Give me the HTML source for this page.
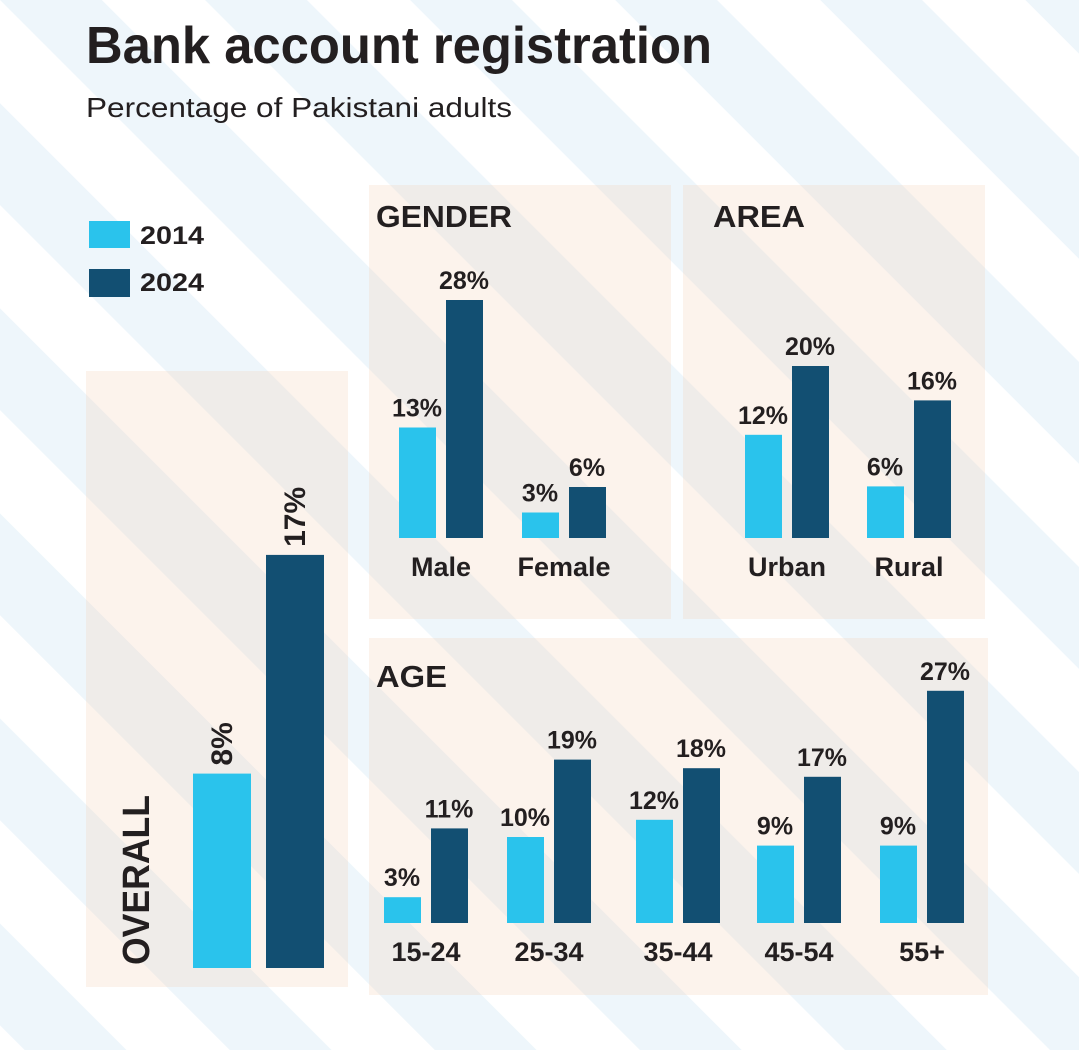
<!DOCTYPE html>
<html><head><meta charset="utf-8">
<style>
html,body{margin:0;padding:0;background:#fff;}
svg{display:block;}
text{font-family:"Liberation Sans Narrow","Liberation Sans",sans-serif;fill:#231f20;}
.b{font-weight:bold;}
</style></head>
<body>
<svg id="chart" width="1079" height="1050" viewBox="0 0 1079 1050" xmlns="http://www.w3.org/2000/svg">
<defs>
<pattern id="bgStripe" width="145" height="145" patternUnits="userSpaceOnUse" patternTransform="rotate(-45)">
<rect x="0" y="0" width="145" height="145" fill="#ffffff"/>
<rect x="0" y="0" width="72" height="145" fill="#eef6fb"/>
</pattern>
<pattern id="panelStripe" width="145" height="145" patternUnits="userSpaceOnUse" patternTransform="rotate(-45)">
<rect x="0" y="0" width="145" height="145" fill="#fcf3ec"/>
<rect x="0" y="0" width="72" height="145" fill="#efece9"/>
</pattern>
</defs>
<rect x="0" y="0" width="1079" height="1050" fill="url(#bgStripe)"/>
<text x="86" y="63" class="b" font-size="52" textLength="626" lengthAdjust="spacingAndGlyphs">Bank account registration</text>
<text x="86" y="117" font-size="28" textLength="426" lengthAdjust="spacingAndGlyphs">Percentage of Pakistani adults</text>

<g>
<rect x="89" y="221" width="41" height="27" fill="#2ac3ec"/>
<text x="140" y="244" class="b" font-size="25" textLength="64" lengthAdjust="spacingAndGlyphs">2014</text>
<rect x="89" y="269" width="41" height="28" fill="#124f72"/>
<text x="140" y="291" class="b" font-size="25" textLength="64" lengthAdjust="spacingAndGlyphs">2024</text>
</g>

<rect x="86" y="371" width="262" height="616" fill="url(#panelStripe)"/>
<rect x="369" y="185" width="302" height="434" fill="url(#panelStripe)"/>
<rect x="683" y="185" width="302" height="434" fill="url(#panelStripe)"/>
<rect x="369" y="638" width="619" height="357" fill="url(#panelStripe)"/>

<text x="376" y="227" class="b" font-size="31" textLength="136" lengthAdjust="spacingAndGlyphs">GENDER</text>
<text x="713" y="227" class="b" font-size="31" textLength="92" lengthAdjust="spacingAndGlyphs">AREA</text>
<text x="376" y="687" class="b" font-size="31" textLength="71" lengthAdjust="spacingAndGlyphs">AGE</text>
<text transform="translate(149,965) rotate(-90)" class="b" font-size="38" textLength="170" lengthAdjust="spacingAndGlyphs">OVERALL</text>

<g id="marks"></g>
</svg>
<script>
// Data
const overallValues = [8, 17];
const genderCats = ["Male", "Female"];
const gender2014 = [13, 3];
const gender2024 = [28, 6];
const areaCats = ["Urban", "Rural"];
const area2014 = [12, 6];
const area2024 = [20, 16];
const ageCats = ["15-24", "25-34", "35-44", "45-54", "55+"];
const age2014 = [3, 10, 12, 9, 9];
const age2024 = [11, 19, 18, 17, 27];

const NS = "http://www.w3.org/2000/svg";
const marks = document.getElementById("marks");
const C14 = "#2ac3ec", C24 = "#124f72";

function mk(tag, attrs) {
  const e = document.createElementNS(NS, tag);
  for (const k in attrs) e.setAttribute(k, attrs[k]);
  marks.appendChild(e);
  return e;
}
function yScale(base, pxPer) { return v => base - v * pxPer; }

// Small grouped charts
function grouped(prefix, cats, s14, s24, groupX, baseY, pxPer) {
  const y = yScale(baseY, pxPer);
  cats.forEach((c, i) => {
    const x0 = groupX[i];
    const r1 = mk("rect", {x: x0, y: y(s14[i]), width: 37, height: baseY - y(s14[i]), fill: C14});
    
    
    const r2 = mk("rect", {x: x0 + 47, y: y(s24[i]), width: 37, height: baseY - y(s24[i]), fill: C24});
    
    
    const t1 = mk("text", {x: x0 + 18, y: y(s14[i]) - 11, "text-anchor": "middle", "font-size": 25, "font-weight": "bold"});
    t1.textContent = s14[i] + "%";
    
    
    const t2 = mk("text", {x: x0 + 65, y: y(s24[i]) - 11, "text-anchor": "middle", "font-size": 25, "font-weight": "bold"});
    t2.textContent = s24[i] + "%";
    
    
    const lb = mk("text", {x: x0 + 42, y: baseY + 38, "text-anchor": "middle", "font-size": 27, "font-weight": "bold"});
    lb.textContent = c;
    
    
  });
}
grouped("gender", genderCats, gender2014, gender2024, [399, 522], 538, 8.5);
grouped("area", areaCats, area2014, area2024, [745, 867], 538, 8.6);
grouped("age", ageCats, age2014, age2024, [384, 507, 636, 757, 880], 923, 8.6);

// Overall
(function(){
  const base = 968, y = yScale(base, 24.3);
  const xs = [193, 266], cols = [C14, C24], yrs = ["2014", "2024"];
  overallValues.forEach((v, i) => {
    const r = mk("rect", {x: xs[i], y: y(v), width: 58, height: base - y(v), fill: cols[i]});
    
    
    const t = mk("text", {transform: "translate(" + (xs[i] + 39) + "," + (y(v) - 8) + ") rotate(-90)", "font-size": 30, "font-weight": "bold"});
    t.textContent = v + "%";
    
    
  });
})();
</script>
</body></html>
